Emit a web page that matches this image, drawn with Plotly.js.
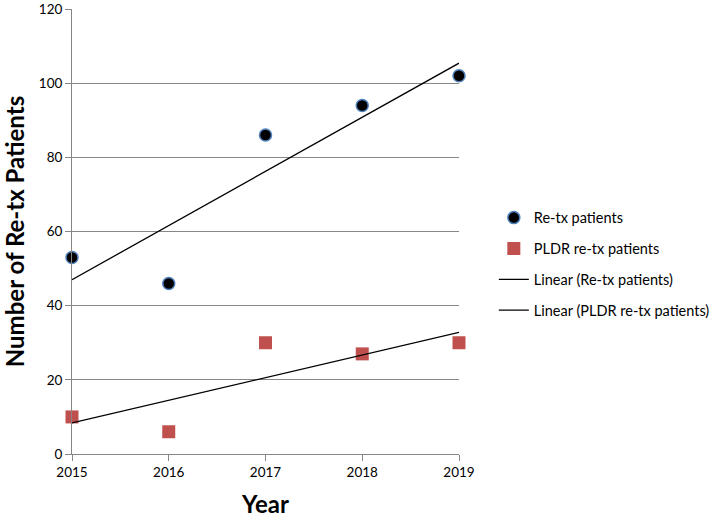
<!DOCTYPE html>
<html><head><meta charset="utf-8">
<script src="https://cdn.plot.ly/plotly-3.0.1.min.js"></script>
<style>html,body{margin:0;padding:0;background:#fff}#chart{width:714px;height:523px}</style>
</head><body><div id="chart"></div>
<script>
var years = [2015, 2016, 2017, 2018, 2019];
var retx = [53, 46, 86, 94, 102];
var pldr = [10, 6, 30, 27, 30];
var yTicks = [0, 20, 40, 60, 80, 100, 120];

function fit(xs, ys) {
  var n = xs.length, mx = 0, my = 0;
  for (var i = 0; i < n; i++) { mx += xs[i]; my += ys[i]; }
  mx /= n; my /= n;
  var sxy = 0, sxx = 0;
  for (var j = 0; j < n; j++) { sxy += (xs[j]-mx)*(ys[j]-my); sxx += (xs[j]-mx)*(xs[j]-mx); }
  var b = sxy / sxx, a = my - b*mx;
  return xs.map(function(x){ return a + b*x; });
}

var font = "Lato, 'Open Sans', sans-serif";
var traces = [
  {x: years, y: retx, type: 'scatter', mode: 'markers', name: 'Re-tx patients', legendgroup: 'a',
   marker: {symbol: 'circle', size: 12, color: '#000000', line: {color: '#4f81bd', width: 1.5}}, cliponaxis: false},
  {x: years, y: pldr, type: 'scatter', mode: 'markers', name: 'PLDR re-tx patients', legendgroup: 'b',
   marker: {symbol: 'square', size: 13, color: '#c0504d', line: {width: 0}}, cliponaxis: false},
  {x: years, y: fit(years, retx), type: 'scatter', mode: 'lines', name: 'Linear (Re-tx patients)', legendgroup: 'c',
   line: {color: '#000000', width: 1.3}, cliponaxis: false},
  {x: years, y: fit(years, pldr), type: 'scatter', mode: 'lines', name: 'Linear (PLDR re-tx patients)', legendgroup: 'd',
   line: {color: '#000000', width: 1.3}, cliponaxis: false}
];

var layout = {
  width: 714, height: 523,
  margin: {l: 72, r: 255, t: 9, b: 69, autoexpand: false},
  paper_bgcolor: '#ffffff', plot_bgcolor: '#ffffff',
  font: {family: font, size: 13, color: '#000000'},
  showlegend: true,
  legend: {x: 1.09, xanchor: 'left', y: 0.567, yanchor: 'top', tracegroupgap: 9,
           font: {family: font, size: 14.5, color: '#000000'}, bgcolor: 'rgba(0,0,0,0)'},
  xaxis: {range: [2015, 2019], tickvals: years, ticktext: years.map(String), showgrid: false, zeroline: false,
          showline: true, linecolor: '#868686', linewidth: 1, ticks: 'outside', ticklen: 6, tickcolor: '#868686',
          tickfont: {family: font, size: 13.5}, fixedrange: true,
          title: {text: '<b>Year</b>', font: {family: font, size: 24}, standoff: 16}},
  yaxis: {range: [0, 120], tickvals: yTicks, showgrid: true, gridcolor: '#878787', gridwidth: 1, zeroline: false,
          showline: true, linecolor: '#868686', linewidth: 1, ticks: 'outside', ticklen: 6, tickcolor: '#868686',
          tickfont: {family: font, size: 13.5}, fixedrange: true,
          title: {text: '<b>Number of Re-tx Patients</b>', font: {family: font, size: 24}, standoff: 10}}
};
Plotly.newPlot('chart', traces, layout, {displayModeBar: false, staticPlot: true});
</script></body></html>
